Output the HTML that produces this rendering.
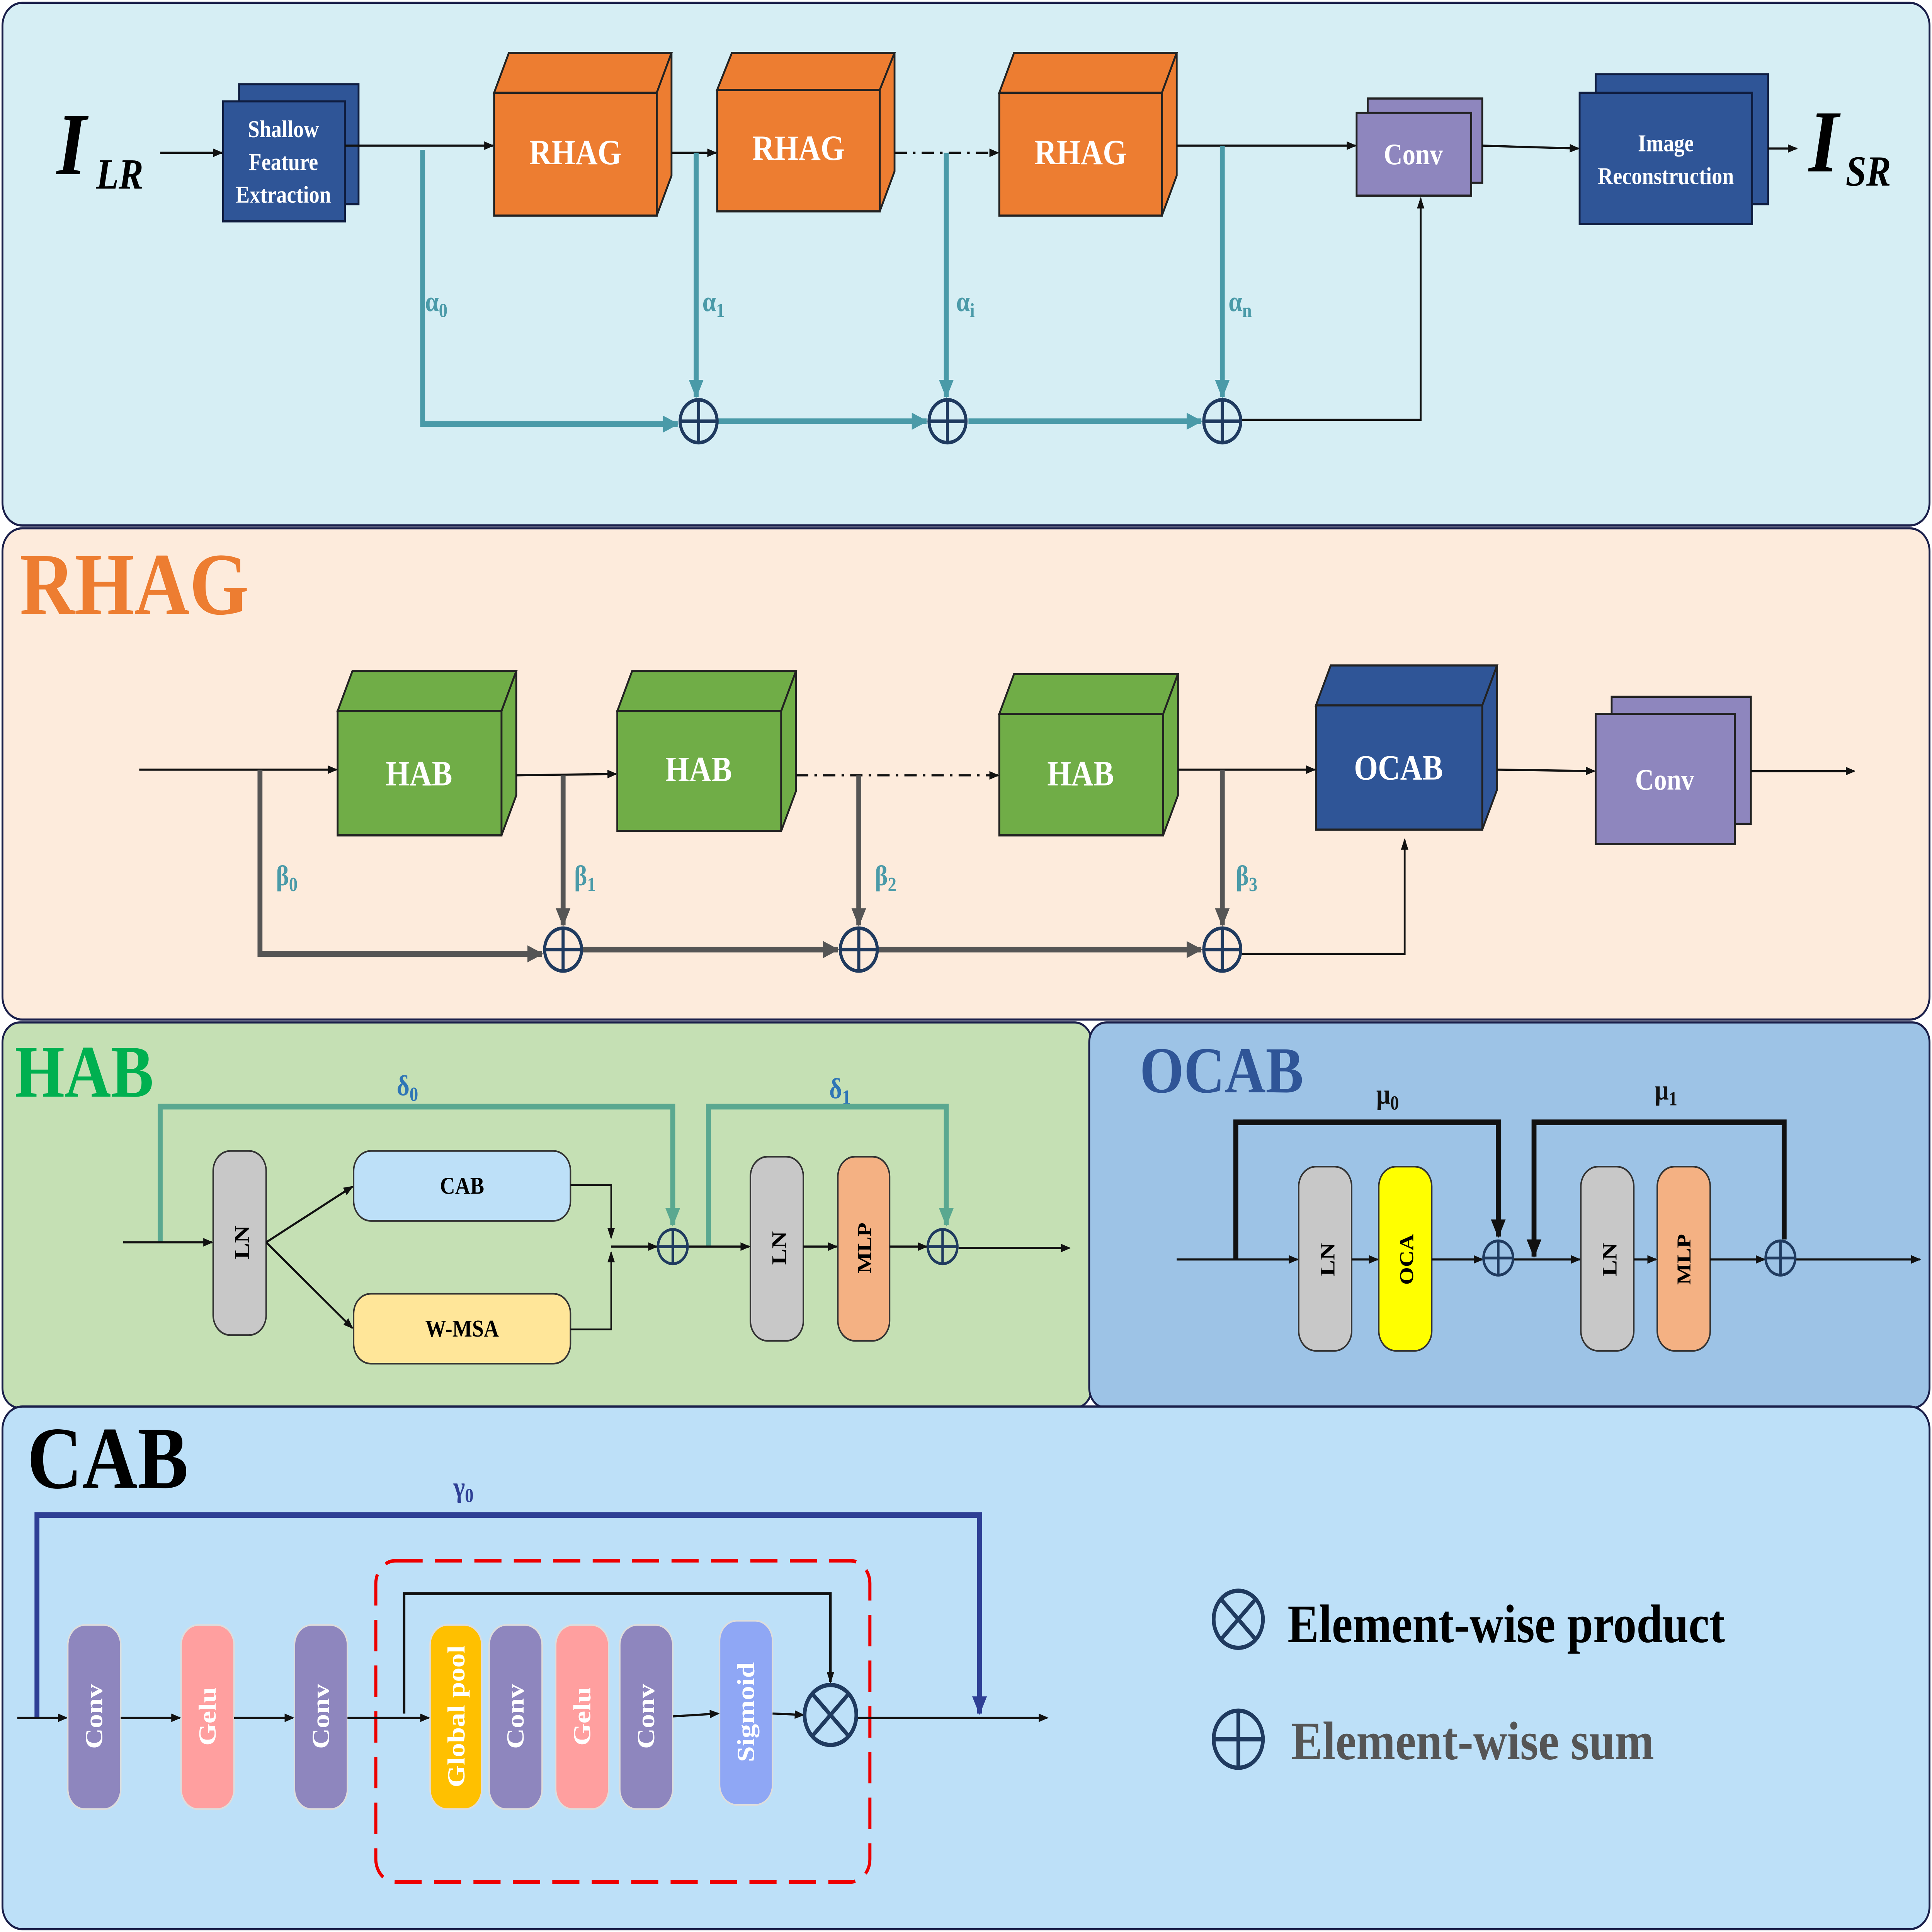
<!DOCTYPE html>
<html><head><meta charset="utf-8"><style>
html,body{margin:0;padding:0;background:#fff;width:100%;height:100%;overflow:hidden;}
svg{display:block;width:100vw;height:100vh;}
text{font-family:"Liberation Serif",serif;}
</style></head><body>
<svg viewBox="0 0 1568 1353" preserveAspectRatio="none" xmlns="http://www.w3.org/2000/svg">
<defs>
<marker id="a" markerWidth="8" markerHeight="8" refX="7" refY="4" orient="auto" markerUnits="userSpaceOnUse"><path d="M0,1 L8,4 L0,7z" fill="#111"/></marker>
<marker id="at" markerWidth="14" markerHeight="14" refX="12" refY="7" orient="auto" markerUnits="userSpaceOnUse"><path d="M0,1 L13,7 L0,13z" fill="#4a9aa8"/></marker>
<marker id="ag" markerWidth="14" markerHeight="14" refX="12" refY="7" orient="auto" markerUnits="userSpaceOnUse"><path d="M0,1 L13,7 L0,13z" fill="#555"/></marker>
<marker id="ah" markerWidth="14" markerHeight="14" refX="12" refY="7" orient="auto" markerUnits="userSpaceOnUse"><path d="M0,1 L13,7 L0,13z" fill="#5aa890"/></marker>
<marker id="ak" markerWidth="14" markerHeight="14" refX="12" refY="7" orient="auto" markerUnits="userSpaceOnUse"><path d="M0,1 L13,7 L0,13z" fill="#111"/></marker>
<marker id="an" markerWidth="14" markerHeight="14" refX="12" refY="7" orient="auto" markerUnits="userSpaceOnUse"><path d="M0,1 L13,7 L0,13z" fill="#2e3f95"/></marker>
</defs>
<rect x="2" y="2" width="1564" height="366" rx="16" fill="#d6eef4" stroke="#1a1f4a" stroke-width="1.5"/>
<rect x="2" y="370" width="1564" height="344" rx="16" fill="#fdebdc" stroke="#1a1f4a" stroke-width="1.5"/>
<rect x="2" y="716" width="884" height="270" rx="14" fill="#c5e0b4" stroke="#1a1f4a" stroke-width="1.5"/>
<rect x="884" y="716" width="682" height="270" rx="14" fill="#9dc3e6" stroke="#1a1f4a" stroke-width="1.5"/>
<rect x="2" y="985" width="1564" height="366" rx="16" fill="#bde0f8" stroke="#1a1f4a" stroke-width="1.5"/>

<text x="46" y="122" font-size="62" font-weight="bold" font-style="italic">I</text>
<text x="78" y="132" font-size="30" font-weight="bold" font-style="italic">LR</text>
<line x1="130" y1="107" x2="180" y2="107" stroke="#111" stroke-width="1.5" marker-end="url(#a)"/>
<rect x="194" y="59" width="97" height="84" fill="#2f5597" stroke="#0f1d40" stroke-width="1.5"/>
<rect x="181" y="71" width="99" height="84" fill="#2f5597" stroke="#0f1d40" stroke-width="1.5"/>
<text x="230" y="96" font-size="17" font-weight="bold" fill="#fff" text-anchor="middle">Shallow</text>
<text x="230" y="119" font-size="17" font-weight="bold" fill="#fff" text-anchor="middle">Feature</text>
<text x="230" y="142" font-size="17" font-weight="bold" fill="#fff" text-anchor="middle">Extraction</text>
<line x1="280" y1="102" x2="400" y2="102" stroke="#111" stroke-width="1.5" marker-end="url(#a)"/>
<g stroke="#222" stroke-width="1.5" fill="#ed7d31">
<polygon points="401,65 413,37 545,37 533,65"/><polygon points="533,65 545,37 545,123 533,151"/><rect x="401" y="65" width="132" height="86"/>
<polygon points="582,63 594,37 726,37 714,63"/><polygon points="714,63 726,37 726,120 714,148"/><rect x="582" y="63" width="132" height="85"/>
<polygon points="811,65 823,37 955,37 943,65"/><polygon points="943,65 955,37 955,123 943,151"/><rect x="811" y="65" width="132" height="86"/>
</g>
<text x="467" y="115" font-size="25" font-weight="bold" fill="#fff" text-anchor="middle">RHAG</text>
<text x="648" y="112" font-size="25" font-weight="bold" fill="#fff" text-anchor="middle">RHAG</text>
<text x="877" y="115" font-size="25" font-weight="bold" fill="#fff" text-anchor="middle">RHAG</text>
<line x1="545" y1="107" x2="581" y2="107" stroke="#111" stroke-width="1.5" marker-end="url(#a)"/>
<line x1="726" y1="107" x2="810" y2="107" stroke="#111" stroke-width="1.5" stroke-dasharray="10,5,2,5" marker-end="url(#a)"/>
<line x1="955" y1="102" x2="1100" y2="102" stroke="#111" stroke-width="1.5" marker-end="url(#a)"/>
<rect x="1110" y="69" width="93" height="59" fill="#8e86be" stroke="#222" stroke-width="1.5"/>
<rect x="1101" y="79" width="93" height="58" fill="#8e86be" stroke="#222" stroke-width="1.5"/>
<text x="1147" y="115" font-size="21" font-weight="bold" fill="#fff" text-anchor="middle">Conv</text>
<path d="M1203,102 L1240,103 L1281,104" fill="none" stroke="#111" stroke-width="1.5" marker-end="url(#a)"/>
<rect x="1295" y="52" width="140" height="91" fill="#2f5597" stroke="#0f1d40" stroke-width="1.5"/>
<rect x="1282" y="65" width="140" height="92" fill="#2f5597" stroke="#0f1d40" stroke-width="1.5"/>
<text x="1352" y="106" font-size="17" font-weight="bold" fill="#fff" text-anchor="middle">Image</text>
<text x="1352" y="129" font-size="17" font-weight="bold" fill="#fff" text-anchor="middle">Reconstruction</text>
<line x1="1435" y1="104" x2="1458" y2="104" stroke="#111" stroke-width="1.5" marker-end="url(#a)"/>
<text x="1468" y="120" font-size="62" font-weight="bold" font-style="italic">I</text>
<text x="1498" y="130" font-size="30" font-weight="bold" font-style="italic">SR</text>
<g stroke="#4a9aa8" stroke-width="4" fill="none">
<path d="M343,105 V297 H550" marker-end="url(#at)"/>
<path d="M565,107 V278" marker-end="url(#at)"/>
<path d="M768,107 V278" marker-end="url(#at)"/>
<path d="M992,102 V278" marker-end="url(#at)"/>
<path d="M583,295 H752" marker-end="url(#at)"/>
<path d="M786,295 H975" marker-end="url(#at)"/>
</g>
<g font-family="Liberation Sans" font-weight="bold" font-size="20" fill="#4a9aa8">
<text x="345" y="218">α<tspan font-size="14" dy="4">0</tspan></text>
<text x="570" y="218">α<tspan font-size="14" dy="4">1</tspan></text>
<text x="776" y="218">α<tspan font-size="14" dy="4">i</tspan></text>
<text x="997" y="218">α<tspan font-size="14" dy="4">n</tspan></text>
</g>
<path d="M1008,294 H1153 V139" fill="none" stroke="#111" stroke-width="1.5" marker-end="url(#a)"/>
<g stroke="#1f3a5f" stroke-width="2.5" fill="none">
<circle cx="567" cy="295" r="15"/><path d="M552,295 H582 M567,280 V310"/>
<circle cx="769" cy="295" r="15"/><path d="M754,295 H784 M769,280 V310"/>
<circle cx="992" cy="295" r="15"/><path d="M977,295 H1007 M992,280 V310"/>
</g>

<text x="16" y="430" font-size="62" font-weight="bold" fill="#ed7d31">RHAG</text>
<line x1="113" y1="539" x2="273" y2="539" stroke="#111" stroke-width="1.5" marker-end="url(#a)"/>
<g stroke="#222" stroke-width="1.5" fill="#70ad47">
<polygon points="274,498 286,470 419,470 407,498"/><polygon points="407,498 419,470 419,557 407,585"/><rect x="274" y="498" width="133" height="87"/>
<polygon points="501,498 513,470 646,470 634,498"/><polygon points="634,498 646,470 646,554 634,582"/><rect x="501" y="498" width="133" height="84"/>
<polygon points="811,500 823,472 956,472 944,500"/><polygon points="944,500 956,472 956,557 944,585"/><rect x="811" y="500" width="133" height="85"/>
</g>
<g stroke="#222" stroke-width="1.5" fill="#2f5597">
<polygon points="1068,494 1080,466 1215,466 1203,494"/><polygon points="1203,494 1215,466 1215,553 1203,581"/><rect x="1068" y="494" width="135" height="87"/>
</g>
<text x="340" y="550" font-size="25" font-weight="bold" fill="#fff" text-anchor="middle">HAB</text>
<text x="567" y="547" font-size="25" font-weight="bold" fill="#fff" text-anchor="middle">HAB</text>
<text x="877" y="550" font-size="25" font-weight="bold" fill="#fff" text-anchor="middle">HAB</text>
<text x="1135" y="546" font-size="25" font-weight="bold" fill="#fff" text-anchor="middle">OCAB</text>
<line x1="419" y1="543" x2="500" y2="542" stroke="#111" stroke-width="1.5" marker-end="url(#a)"/>
<line x1="646" y1="543" x2="810" y2="543" stroke="#111" stroke-width="1.5" stroke-dasharray="10,5,2,5" marker-end="url(#a)"/>
<line x1="956" y1="539" x2="1067" y2="539" stroke="#111" stroke-width="1.5" marker-end="url(#a)"/>
<rect x="1308" y="488" width="113" height="89" fill="#8e86be" stroke="#222" stroke-width="1.5"/>
<rect x="1295" y="500" width="113" height="91" fill="#8e86be" stroke="#222" stroke-width="1.5"/>
<text x="1351" y="553" font-size="21" font-weight="bold" fill="#fff" text-anchor="middle">Conv</text>
<line x1="1215" y1="539" x2="1294" y2="540" stroke="#111" stroke-width="1.5" marker-end="url(#a)"/>
<line x1="1421" y1="540" x2="1505" y2="540" stroke="#111" stroke-width="1.5" marker-end="url(#a)"/>
<g stroke="#555" stroke-width="4" fill="none">
<path d="M211,539 V668 H440" marker-end="url(#ag)"/>
<path d="M457,543 V648" marker-end="url(#ag)"/>
<path d="M697,543 V648" marker-end="url(#ag)"/>
<path d="M992,539 V648" marker-end="url(#ag)"/>
<path d="M473,665 H680" marker-end="url(#ag)"/>
<path d="M713,665 H975" marker-end="url(#ag)"/>
</g>
<g font-family="Liberation Sans" font-weight="bold" font-size="20" fill="#4a9aa8">
<text x="224" y="620">β<tspan font-size="14" dy="4">0</tspan></text>
<text x="466" y="620">β<tspan font-size="14" dy="4">1</tspan></text>
<text x="710" y="620">β<tspan font-size="14" dy="4">2</tspan></text>
<text x="1003" y="620">β<tspan font-size="14" dy="4">3</tspan></text>
</g>
<path d="M1008,668 H1140 V588" fill="none" stroke="#111" stroke-width="1.5" marker-end="url(#a)"/>
<g stroke="#1f3a5f" stroke-width="2.5" fill="none">
<circle cx="457" cy="665" r="15"/><path d="M442,665 H472 M457,650 V680"/>
<circle cx="697" cy="665" r="15"/><path d="M682,665 H712 M697,650 V680"/>
<circle cx="992" cy="665" r="15"/><path d="M977,665 H1007 M992,650 V680"/>
</g>

<text x="12" y="768" font-size="52" font-weight="bold" fill="#00b050">HAB</text>
<g stroke="#5aa890" stroke-width="4" fill="none">
<path d="M130,870 V775 H546 V858" marker-end="url(#ah)"/>
<path d="M575,873 V775 H768 V858" marker-end="url(#ah)"/>
</g>
<g font-family="Liberation Sans" font-weight="bold" font-size="20" fill="#2e75b6">
<text x="322" y="767">δ<tspan font-size="14" dy="4">0</tspan></text>
<text x="673" y="769">δ<tspan font-size="14" dy="4">1</tspan></text>
</g>
<line x1="100" y1="870" x2="172" y2="870" stroke="#111" stroke-width="1.5" marker-end="url(#a)"/>
<rect x="173" y="806" width="43" height="129" rx="14" fill="#c8c8c8" stroke="#333" stroke-width="1.2"/>
<text transform="translate(202,870) rotate(-90)" font-family="Liberation Sans" font-size="17" font-weight="bold" text-anchor="middle">LN</text>
<line x1="216" y1="870" x2="286" y2="831" stroke="#111" stroke-width="1.5" marker-end="url(#a)"/>
<line x1="216" y1="870" x2="286" y2="930" stroke="#111" stroke-width="1.5" marker-end="url(#a)"/>
<rect x="287" y="806" width="176" height="49" rx="14" fill="#bde0f8" stroke="#333" stroke-width="1.2"/>
<text x="375" y="836" font-size="17" font-weight="bold" text-anchor="middle">CAB</text>
<rect x="287" y="906" width="176" height="49" rx="14" fill="#ffe699" stroke="#333" stroke-width="1.2"/>
<text x="375" y="936" font-size="17" font-weight="bold" text-anchor="middle">W-MSA</text>
<path d="M463,830 H496 V867" fill="none" stroke="#111" stroke-width="1.2" marker-end="url(#a)"/>
<path d="M463,931 H496 V877" fill="none" stroke="#111" stroke-width="1.2" marker-end="url(#a)"/>
<line x1="496" y1="873" x2="533" y2="873" stroke="#111" stroke-width="1.5" marker-end="url(#a)"/>
<line x1="559" y1="873" x2="608" y2="873" stroke="#111" stroke-width="1.5" marker-end="url(#a)"/>
<rect x="609" y="810" width="43" height="129" rx="14" fill="#c8c8c8" stroke="#333" stroke-width="1.2"/>
<text transform="translate(638,874) rotate(-90)" font-family="Liberation Sans" font-size="17" font-weight="bold" text-anchor="middle">LN</text>
<line x1="652" y1="873" x2="679" y2="873" stroke="#111" stroke-width="1.5" marker-end="url(#a)"/>
<rect x="680" y="810" width="42" height="129" rx="14" fill="#f4b183" stroke="#333" stroke-width="1.2"/>
<text transform="translate(707,874) rotate(-90)" font-size="16" font-weight="bold" text-anchor="middle">MLP</text>
<line x1="722" y1="873" x2="752" y2="873" stroke="#111" stroke-width="1.5" marker-end="url(#a)"/>
<line x1="778" y1="874" x2="868" y2="874" stroke="#111" stroke-width="1.5" marker-end="url(#a)"/>
<g stroke="#1f3a5f" stroke-width="2" fill="none">
<circle cx="546" cy="873" r="12"/><path d="M534,873 H558 M546,861 V885"/>
<circle cx="765" cy="873" r="12"/><path d="M753,873 H777 M765,861 V885"/>
</g>

<text x="925" y="765" font-size="46" font-weight="bold" fill="#2f5597">OCAB</text>
<g stroke="#111" stroke-width="4" fill="none">
<path d="M1003,882 V786 H1216 V866" marker-end="url(#ak)"/>
<path d="M1448,868 V786 H1245 V880" marker-end="url(#ak)"/>
</g>
<g font-family="Liberation Sans" font-weight="bold" font-size="20" fill="#111">
<text x="1117" y="773">μ<tspan font-size="14" dy="4">0</tspan></text>
<text x="1343" y="770">μ<tspan font-size="14" dy="4">1</tspan></text>
</g>
<line x1="955" y1="882" x2="1053" y2="882" stroke="#111" stroke-width="1.5" marker-end="url(#a)"/>
<rect x="1054" y="817" width="43" height="129" rx="14" fill="#c8c8c8" stroke="#333" stroke-width="1.2"/>
<text transform="translate(1083,882) rotate(-90)" font-family="Liberation Sans" font-size="17" font-weight="bold" text-anchor="middle">LN</text>
<line x1="1097" y1="882" x2="1118" y2="882" stroke="#111" stroke-width="1.5" marker-end="url(#a)"/>
<rect x="1119" y="817" width="43" height="129" rx="14" fill="#ffff00" stroke="#333" stroke-width="1.2"/>
<text transform="translate(1147,882) rotate(-90)" font-size="16" font-weight="bold" text-anchor="middle">OCA</text>
<line x1="1162" y1="882" x2="1203" y2="882" stroke="#111" stroke-width="1.5" marker-end="url(#a)"/>
<line x1="1228" y1="882" x2="1282" y2="882" stroke="#111" stroke-width="1.5" marker-end="url(#a)"/>
<rect x="1283" y="817" width="43" height="129" rx="14" fill="#c8c8c8" stroke="#333" stroke-width="1.2"/>
<text transform="translate(1312,882) rotate(-90)" font-family="Liberation Sans" font-size="17" font-weight="bold" text-anchor="middle">LN</text>
<line x1="1326" y1="882" x2="1344" y2="882" stroke="#111" stroke-width="1.5" marker-end="url(#a)"/>
<rect x="1345" y="817" width="43" height="129" rx="14" fill="#f4b183" stroke="#333" stroke-width="1.2"/>
<text transform="translate(1372,882) rotate(-90)" font-size="16" font-weight="bold" text-anchor="middle">MLP</text>
<line x1="1388" y1="882" x2="1432" y2="882" stroke="#111" stroke-width="1.5" marker-end="url(#a)"/>
<line x1="1457" y1="882" x2="1558" y2="882" stroke="#111" stroke-width="1.5" marker-end="url(#a)"/>
<g stroke="#1f3a5f" stroke-width="2" fill="none">
<circle cx="1216" cy="881" r="12"/><path d="M1204,881 H1228 M1216,869 V893"/>
<circle cx="1445" cy="881" r="12"/><path d="M1433,881 H1457 M1445,869 V893"/>
</g>

<text x="22" y="1042" font-size="62" font-weight="bold" fill="#000">CAB</text>
<path d="M30,1203 V1061 H795 V1200" fill="none" stroke="#2e3f95" stroke-width="4" marker-end="url(#an)"/>
<text x="368" y="1048" font-family="Liberation Sans" font-weight="bold" font-size="20" fill="#2e3f95">γ<tspan font-size="14" dy="4">0</tspan></text>
<rect x="305" y="1093" width="401" height="225" rx="16" fill="none" stroke="#e00" stroke-width="2.5" stroke-dasharray="22,10"/>
<path d="M328,1200 V1116 H674 V1178" fill="none" stroke="#111" stroke-width="2" marker-end="url(#a)"/>
<line x1="14" y1="1203" x2="54" y2="1203" stroke="#111" stroke-width="1.5" marker-end="url(#a)"/>
<g stroke="#ddd" stroke-width="1.2">
<rect x="55" y="1138" width="43" height="129" rx="14" fill="#8e86be"/>
<rect x="147" y="1138" width="43" height="129" rx="14" fill="#ff9f9f"/>
<rect x="239" y="1138" width="43" height="129" rx="14" fill="#8e86be"/>
<rect x="349" y="1138" width="42" height="129" rx="14" fill="#ffc000"/>
<rect x="397" y="1138" width="43" height="129" rx="14" fill="#8e86be"/>
<rect x="451" y="1138" width="43" height="129" rx="14" fill="#ff9f9f"/>
<rect x="503" y="1138" width="43" height="129" rx="14" fill="#8e86be"/>
<rect x="584" y="1135" width="43" height="129" rx="14" fill="#8fa7f5"/>
</g>
<g font-size="20" font-weight="bold" fill="#fff" text-anchor="middle">
<text transform="translate(83,1202) rotate(-90)">Conv</text>
<text transform="translate(175,1202) rotate(-90)">Gelu</text>
<text transform="translate(267,1202) rotate(-90)">Conv</text>
<text transform="translate(377,1202) rotate(-90)">Global pool</text>
<text transform="translate(425,1202) rotate(-90)">Conv</text>
<text transform="translate(479,1202) rotate(-90)">Gelu</text>
<text transform="translate(531,1202) rotate(-90)">Conv</text>
<text transform="translate(612,1199) rotate(-90)">Sigmoid</text>
</g>
<g stroke="#111" stroke-width="1.5" fill="none">
<line x1="98" y1="1203" x2="146" y2="1203" marker-end="url(#a)"/>
<line x1="190" y1="1203" x2="238" y2="1203" marker-end="url(#a)"/>
<line x1="282" y1="1203" x2="348" y2="1203" marker-end="url(#a)"/>
<path d="M546,1202 L583,1200" marker-end="url(#a)"/>
<line x1="627" y1="1200" x2="652" y2="1201" marker-end="url(#a)"/>
<line x1="695" y1="1203" x2="850" y2="1203" marker-end="url(#a)"/>
</g>
<g stroke="#1f3a5f" stroke-width="3" fill="none">
<circle cx="674" cy="1201" r="21"/><path d="M660,1187 L688,1215 M688,1187 L660,1215"/>
<circle cx="1005" cy="1134" r="20"/><path d="M991,1120 L1019,1148 M1019,1120 L991,1148"/>
<circle cx="1005" cy="1218" r="20"/><path d="M985,1218 H1025 M1005,1198 V1238"/>
</g>
<text x="1045" y="1150" font-size="38" font-weight="bold" fill="#000">Element-wise product</text>
<text x="1048" y="1232" font-size="38" font-weight="bold" fill="#555">Element-wise sum</text>
</svg>
</body></html>
